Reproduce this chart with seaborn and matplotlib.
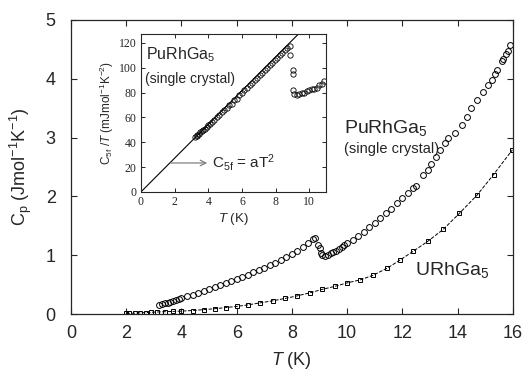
import numpy as np
import pandas as pd
import seaborn as sns
import matplotlib.pyplot as plt

# PuRhGa5 single crystal, total specific heat (J/mol K)
pu_T = [3.2, 3.3, 3.4, 3.5, 3.6, 3.7, 3.8, 3.9, 4.0, 4.2, 4.4, 4.6, 4.8, 5.0,
        5.2, 5.4, 5.6, 5.8, 6.0, 6.2, 6.4, 6.6, 6.8, 7.0, 7.2, 7.4, 7.6, 7.8,
        8.0, 8.2, 8.4, 8.6, 8.75, 8.85, 8.95, 9.0, 9.05, 9.1,
        9.2, 9.3, 9.4, 9.5, 9.6, 9.7, 9.8, 9.9, 10.0, 10.2, 10.4, 10.6, 10.8,
        11.0, 11.2, 11.4, 11.6, 11.8, 12.0, 12.2, 12.4, 12.5,
        12.75, 12.93, 13.05, 13.2, 13.37, 13.55, 13.66, 13.9, 14.17, 14.35,
        14.5, 14.7, 14.93, 15.1, 15.25, 15.35, 15.43, 15.6, 15.65, 15.75,
        15.82, 15.9]
pu_Cp = [0.15, 0.17, 0.18, 0.19, 0.21, 0.22, 0.24, 0.25, 0.27, 0.30, 0.33, 0.36, 0.39, 0.42,
         0.46, 0.49, 0.53, 0.56, 0.59, 0.63, 0.67, 0.71, 0.75, 0.79, 0.83, 0.87, 0.92, 0.97,
         1.02, 1.08, 1.14, 1.21, 1.27, 1.30, 1.18, 1.12, 1.03, 1.00,
         0.99, 1.01, 1.03, 1.06, 1.08, 1.11, 1.14, 1.17, 1.20, 1.26, 1.33, 1.40, 1.48,
         1.55, 1.63, 1.71, 1.79, 1.88, 1.97, 2.06, 2.14, 2.18,
         2.37, 2.45, 2.55, 2.67, 2.79, 2.90, 2.99, 3.07, 3.21, 3.35,
         3.50, 3.64, 3.78, 3.90, 3.98, 4.08, 4.15, 4.30, 4.33, 4.42,
         4.48, 4.57]

# URhGa5
u_T = [2.0, 2.1, 2.3, 2.5, 2.7, 2.9, 3.1, 3.4, 3.7, 4.0, 4.4, 4.8, 5.2, 5.6,
       6.0, 6.4, 6.85, 7.3, 7.75, 8.2, 8.65, 9.1, 9.55, 10.0, 10.47, 10.94,
       11.45, 11.92, 12.4, 12.93, 13.48, 14.06, 14.7, 15.3, 15.98]
u_Cp = [0.01, 0.012, 0.015, 0.02, 0.025, 0.03, 0.035, 0.04, 0.045, 0.05, 0.06, 0.075, 0.09, 0.11,
        0.13, 0.155, 0.19, 0.225, 0.265, 0.31, 0.36, 0.42, 0.47, 0.53, 0.58, 0.66,
        0.78, 0.92, 1.07, 1.24, 1.44, 1.71, 2.02, 2.37, 2.79]

# inset: C5f/T (mJ/mol K^2)
in_T = [3.2, 3.3, 3.35, 3.45, 3.5, 3.6, 3.7, 3.8, 3.9, 4.0, 4.1, 4.2, 4.35, 4.5,
        4.65, 4.8, 4.95, 5.1, 5.25, 5.4, 5.55, 5.7, 5.85, 6.0, 6.15, 6.3, 6.45,
        6.6, 6.75, 6.9, 7.05, 7.2, 7.35, 7.5, 7.65, 7.8, 7.95, 8.1, 8.25, 8.4,
        8.55, 8.7, 8.86,
        8.88, 9.02, 9.02, 9.06, 9.12, 9.25, 9.4, 9.55, 9.7, 9.85, 10.0, 10.15,
        10.3, 10.45, 10.6, 10.75, 10.9]
in_C = [44, 45, 46, 47, 48, 49, 50, 51, 52, 54, 55, 56, 58, 60,
        62, 64, 66, 68, 70, 71, 74, 75, 78, 80, 82, 84, 86,
        88, 90, 92, 94, 96, 98, 100, 102, 104, 106, 108, 110, 112,
        114, 116, 117.5,
        110.6, 98, 95, 82, 79, 78, 79, 80, 80, 81, 82, 83,
        83, 84, 86, 87, 89]
fit_T = [0, 10]
fit_C = [0, 136]

sns.set_style('ticks')
plt.rcParams['font.family'] = ['Liberation Sans', 'DejaVu Sans']
plt.rcParams['mathtext.fontset'] = 'custom'
plt.rcParams['mathtext.rm'] = 'Liberation Sans'
plt.rcParams['mathtext.it'] = 'Liberation Sans:italic'
plt.rcParams['mathtext.default'] = 'regular'

fig = plt.figure(figsize=(5.26, 3.77), dpi=100)
ax = fig.add_axes([0.135, 0.167, 0.840, 0.780])

sns.lineplot(x=pu_T, y=pu_Cp, ax=ax, sort=False, estimator=None, marker='o', markersize=4.2,
             markerfacecolor='none', markeredgecolor='k', markeredgewidth=0.7,
             linestyle='', color='k')
sns.lineplot(x=u_T, y=u_Cp, ax=ax, sort=False, estimator=None, marker='s', markersize=3.2,
             markerfacecolor='none', markeredgecolor='k', markeredgewidth=0.7,
             color='k', linewidth=0.7, linestyle='--')

ax.set_xlim(0, 16)
ax.set_ylim(0, 5)
ax.set_xticks(range(0, 17, 2))
ax.set_yticks(range(0, 6))
ax.tick_params(direction='in', top=True, right=True, labelsize=13, length=4, width=0.8)
ax.tick_params(axis='x', pad=8)
ax.tick_params(axis='y', pad=11)
for s in ax.spines.values():
    s.set_linewidth(0.9)
ax.set_xlabel(r'$\mathit{T}$ (K)', fontsize=13, labelpad=6)
ax.set_ylabel(r'C$_p$ (Jmol$^{-1}$K$^{-1}$)', fontsize=13, labelpad=8)

ax.text(9.9, 3.16, r'PuRhGa$_5$', fontsize=14, ha='left', va='center')
ax.text(9.9, 2.8, '(single crystal)', fontsize=10.5, ha='left', va='center')
ax.text(12.45, 0.75, r'URhGa$_5$', fontsize=14, ha='left', va='center')

# inset
axi = fig.add_axes([0.268, 0.491, 0.352, 0.418])
sns.lineplot(x=fit_T, y=fit_C, ax=axi, color='k', linewidth=0.8)
sns.lineplot(x=in_T, y=in_C, ax=axi, sort=False, estimator=None, marker='o', markersize=3.8,
             markerfacecolor='none', markeredgecolor='k', markeredgewidth=0.6,
             linestyle='', color='k')
axi.set_xlim(0, 11)
axi.set_ylim(0, 127)
axi.set_xticks(range(0, 11, 2))
axi.set_yticks(range(0, 121, 20))
axi.tick_params(direction='in', top=True, right=True, labelsize=8.5, length=3, width=0.7, pad=3)
for lab in axi.get_xticklabels() + axi.get_yticklabels():
    lab.set_family(['Liberation Serif', 'DejaVu Serif'])
for s in axi.spines.values():
    s.set_linewidth(0.8)
axi.set_xlabel(r'$\mathit{T}$ (K)', fontsize=9.5, labelpad=2)
axi.set_ylabel(r'C$_{5f}$ /$\mathit{T}$ (mJmol$^{-1}$K$^{-2}$)', fontsize=8.5, labelpad=2)
axi.text(0.3, 111, r'PuRhGa$_5$', fontsize=11.5, ha='left', va='center')
axi.text(0.25, 91, '(single crystal)', fontsize=10, ha='left', va='center')
axi.annotate('', xy=(4.1, 23.3), xytext=(1.6, 23.3),
             arrowprops=dict(arrowstyle='->', color='grey', lw=0.9))
axi.text(4.2, 23.5, r'C$_{5f}$ = aT$^2$', fontsize=11, ha='left', va='center')

fig.savefig('out.png', dpi=100)
